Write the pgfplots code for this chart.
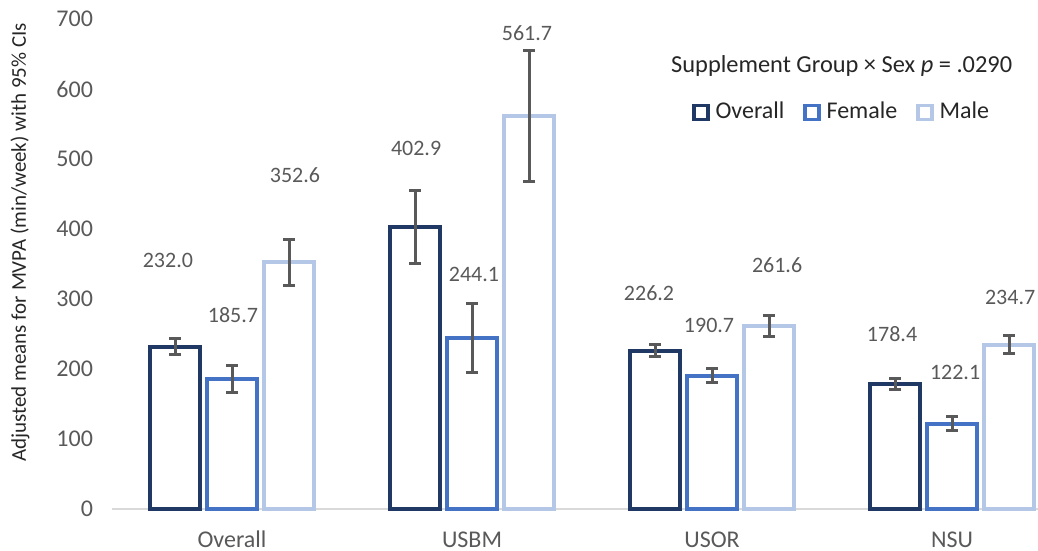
\documentclass[border=0pt]{standalone}
\usepackage{pgfplots}
\pgfplotsset{compat=1.18}
\usepackage{pgfplotstable}
\usepackage{fontspec}
\setmainfont{Carlito}
\definecolor{cOver}{HTML}{1F3864}
\definecolor{cFem}{HTML}{4472C4}
\definecolor{cMale}{HTML}{B4C7E7}
\definecolor{cGrey}{HTML}{595959}
\definecolor{cAxis}{HTML}{D9D9D9}
\definecolor{cText}{HTML}{262626}

\pgfplotstableread{
x y e
0 232.0 11
1 402.9 52
2 226.2 8.5
3 178.4 8
}\tOverall
\pgfplotstableread{
x y e
0 185.7 19
1 244.1 49
2 190.7 10.5
3 122.1 10
}\tFemale
\pgfplotstableread{
x y e
0 352.6 33
1 561.7 94
2 261.6 15
3 234.7 13
}\tMale

\begin{document}
\begin{tikzpicture}
\useasboundingbox (-56pt,-21pt) rectangle (463pt,254.5pt);
\begin{axis}[
  at={(0,0)}, anchor=south west,
  scale only axis,
  width=463pt, height=245pt,
  xmin=-0.5, xmax=3.358,
  ymin=0, ymax=700,
  enlargelimits=false,
  clip=false,
  ybar,
  bar width=25pt,
  axis x line*=bottom,
  axis y line*=left,
  x axis line style={draw=cAxis, line width=0.8pt, -},
  y axis line style={draw=none},
  tick style={draw=none},
  xtick={0,1,2,3},
  xticklabels={Overall,USBM,USOR,NSU},
  ytick={0,100,...,700},
  /pgf/number format/assume math mode=true,
  tick label style={font=\fontsize{12}{14}\selectfont, text=cGrey},
  yticklabel style={anchor=east, xshift=-6pt},
  xticklabel style={anchor=base, yshift=-15pt},
  legend style={draw=none, fill=none, at={(axis cs:2.54,567)}, anchor=center,
    legend columns=3, font=\fontsize{12}{14}\selectfont\color{cText},
    nodes={inner sep=1pt},
    /tikz/every even column/.append style={column sep=8.5pt},
    /tikz/every odd column/.append style={column sep=2pt},
    inner sep=0pt},
  legend image code/.code={\draw[#1, fill=white, line width=1.6pt] (0pt,-3.5pt) rectangle (7pt,3.5pt);},
  error bars/y dir=both,
  error bars/y explicit,
  error bars/error bar style={line width=1.5pt, cGrey},
  error bars/error mark options={rotate=90, mark size=3pt, line width=1.5pt, cGrey},
]
\addplot[draw=cOver, fill=white, line width=2pt, bar shift=-28.5pt] table[x=x, y=y, y error=e] {\tOverall};
\addplot[draw=cFem, fill=white, line width=2pt, bar shift=0pt] table[x=x, y=y, y error=e] {\tFemale};
\addplot[draw=cMale, fill=white, line width=2pt, bar shift=28.5pt] table[x=x, y=y, y error=e] {\tMale};
\legend{Overall,Female,Male}

\begin{scope}[every node/.style={font=\fontsize{11}{13}\selectfont, text=cGrey}]
\node at (axis cs:-0.267,355.7) {232.0};
\node at (axis cs:0.004,277) {185.7};
\node at (axis cs:0.2625,477) {352.6};
\node at (axis cs:0.767,515.7) {402.9};
\node at (axis cs:1.008,335.7) {244.1};
\node at (axis cs:1.229,680) {561.7};
\node at (axis cs:1.7375,308.6) {226.2};
\node at (axis cs:1.9875,262.9) {190.7};
\node at (axis cs:2.271,348.6) {261.6};
\node at (axis cs:2.75,250) {178.4};
\node at (axis cs:3.0125,195.7) {122.1};
\node at (axis cs:3.242,302.9) {234.7};
\end{scope}
\node[font=\fontsize{12.2}{14}\selectfont, text=cText] at (axis cs:2.54,633) {Supplement Group × Sex \textit{p} = .0290};
\node[font=\fontsize{10.5}{13}\selectfont, text=cText, rotate=90] at (axis cs:-0.883,381) {Adjusted means for MVPA (min/week) with 95\% CIs};
\end{axis}
\end{tikzpicture}
\end{document}
